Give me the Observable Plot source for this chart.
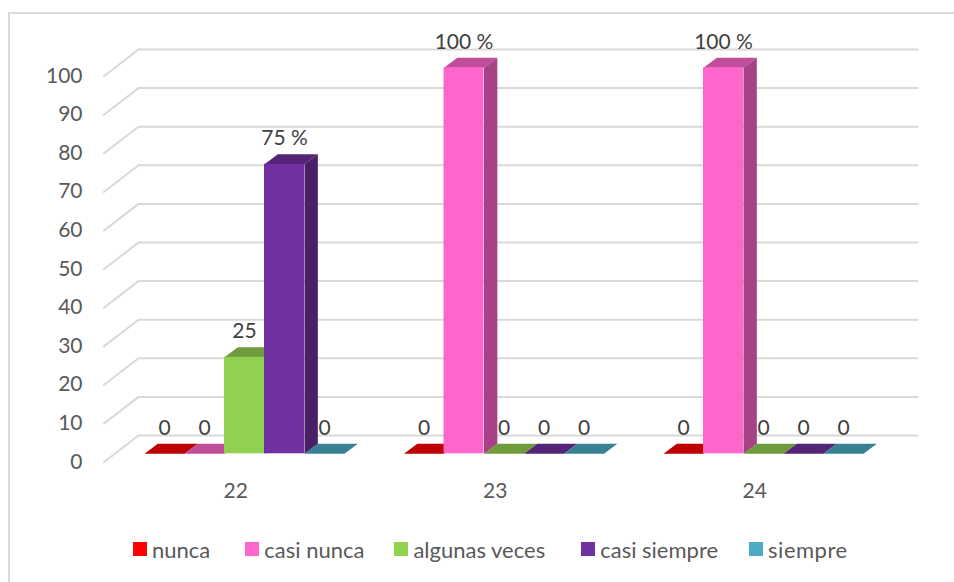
<!DOCTYPE html>
<html>
<head>
<meta charset="utf-8">
<script src="https://cdn.jsdelivr.net/npm/d3@7"></script>
<script src="https://cdn.jsdelivr.net/npm/@observablehq/plot@0.6"></script>
<style>
  html, body { margin: 0; background: #fff; }
  #wrap { position: relative; width: 954px; height: 582px; overflow: hidden; }
  #wrap::before { content: ""; position: absolute; left: 8px; top: 12px; width: 960px; height: 600px; border: 2px solid #d9d9d9; }
  #wrap svg { position: relative; display: block; background: transparent; }
  #legend { position: relative; height: 38px; padding-left: 133px; display: flex; align-items: center; }
  .lg-swatches { font-family: Lato, sans-serif !important; font-size: 22px !important; color: #595959; margin: 0 !important; display: flex; align-items: center; white-space: nowrap; }
  .lg-swatch { margin-right: 31px !important; display: inline-flex; align-items: center; }
  .lg-swatch:nth-of-type(1) { margin-right: 35px !important; }
  .lg-swatch:nth-of-type(2) { margin-right: 30px !important; }
  .lg-swatch:nth-of-type(3) { margin-right: 36px !important; }
  .lg-swatch:nth-of-type(5) { letter-spacing: 0.5px; }
  .lg-swatch svg { margin-right: 5px !important; }
</style>
</head>
<body>
<div id="wrap"><div id="chart"></div><div id="legend"></div></div>
<script>
const groups = [22, 23, 24];
const series = ["nunca", "casi nunca", "algunas veces", "casi siempre", "siempre"];
const colors = ["#ff0000", "#ff66cc", "#92d050", "#7030a0", "#4bacc6"];
const values22 = [0, 0, 25, 75, 0];
const values23 = [0, 100, 0, 0, 0];
const values24 = [0, 100, 0, 0, 0];
const labels22 = ["0", "0", "25", "75 %", "0"];
const labels23 = ["0", "100 %", "0", "0", "0"];
const labels24 = ["0", "100 %", "0", "0", "0"];
const yTicks = [0, 10, 20, 30, 40, 50, 60, 70, 80, 90, 100];

// Layout in data units: one x unit is one bar's width, y is the percentage.
const groupPitch = 6.4875;
const depthX = 1 / 3, depthY = 2.6;      // bar depth
const wallBack = 4.74, wallFront = -2.18; // gridline offsets on the 3D walls
const wallLeftBack = -0.15, wallLeftFront = -1.015, wallRight = 19.325;

const table = groups.flatMap((g, gi) => {
  const vals = [values22, values23, values24][gi];
  const labs = [labels22, labels23, labels24][gi];
  return series.map((s, si) => ({
    group: g, series: s, color: colors[si], value: vals[si], label: labs[si],
    x1: gi * groupPitch + si, x2: gi * groupPitch + si + 1
  }));
});

const shade = (c, k) => { const r = d3.rgb(c); return d3.rgb(r.r * k, r.g * k, r.b * k).formatHex(); };

const tops = table.flatMap((d, i) => [
  [d.x1, d.value], [d.x2, d.value], [d.x2 + depthX, d.value + depthY], [d.x1 + depthX, d.value + depthY]
].map(([x, y]) => ({id: i, x, y, fill: shade(d.color, 0.75)})));

const sides = table.filter(d => d.value > 0).flatMap((d, i) => [
  [d.x2, 0], [d.x2 + depthX, depthY], [d.x2 + depthX, d.value + depthY], [d.x2, d.value]
].map(([x, y]) => ({id: i, x, y, fill: shade(d.color, 0.65)})));

const grid = yTicks.flatMap(v => [
  {v, x: wallLeftFront, y: v + wallFront},
  {v, x: wallLeftBack, y: v + wallBack},
  {v, x: wallRight, y: v + wallBack}
]);

const H = 530, bottom = 480, left = 82, pxX = 40, pxY = 3.86, x0 = 144, y0 = 453.3;

const chart = Plot.plot({
  width: 954, height: H,
  marginLeft: left, marginRight: 0, marginTop: 0, marginBottom: H - bottom,
  style: {fontFamily: "Lato, sans-serif", fontSize: "21px", background: "transparent"},
  x: {domain: [(left - x0) / pxX, (954 - x0) / pxX], range: [left, 954]},
  y: {domain: [(y0 - bottom) / pxY, y0 / pxY], range: [bottom, 0]},
  color: {domain: series, range: colors},
  marks: [
    Plot.line(grid, {x: "x", y: "y", z: "v", stroke: "#d9d9d9", strokeWidth: 2}),
    Plot.axisY(yTicks, {anchor: "left", tickSize: 0, tickPadding: 0, dy: 8, label: null, color: "#595959", textAnchor: "end"}),
    Plot.axisX(groups.map((g, i) => i * groupPitch + 2.28), {
      anchor: "bottom", tickSize: 0, tickPadding: 0, dy: 3, label: null, color: "#595959",
      tickFormat: (d, i) => groups[i]
    }),
    Plot.line(tops, {x: "x", y: "y", z: "id", fill: {value: "fill", scale: null}, stroke: "none"}),
    Plot.line(sides, {x: "x", y: "y", z: "id", fill: {value: "fill", scale: null}, stroke: "none"}),
    Plot.rect(table.filter(d => d.value > 0), {x1: "x1", x2: "x2", y1: () => 0, y2: "value", fill: "series"}),
    Plot.text(table, {x: d => (d.x1 + d.x2) / 2, y: "value", text: "label", dy: -26, fill: "#404040"})
  ]
});
document.getElementById("chart").append(chart);

document.getElementById("legend").append(Plot.legend({
  color: {domain: series, range: colors},
  legend: "swatches",
  className: "lg",
  swatchSize: 14
}));
</script>
</body>
</html>
